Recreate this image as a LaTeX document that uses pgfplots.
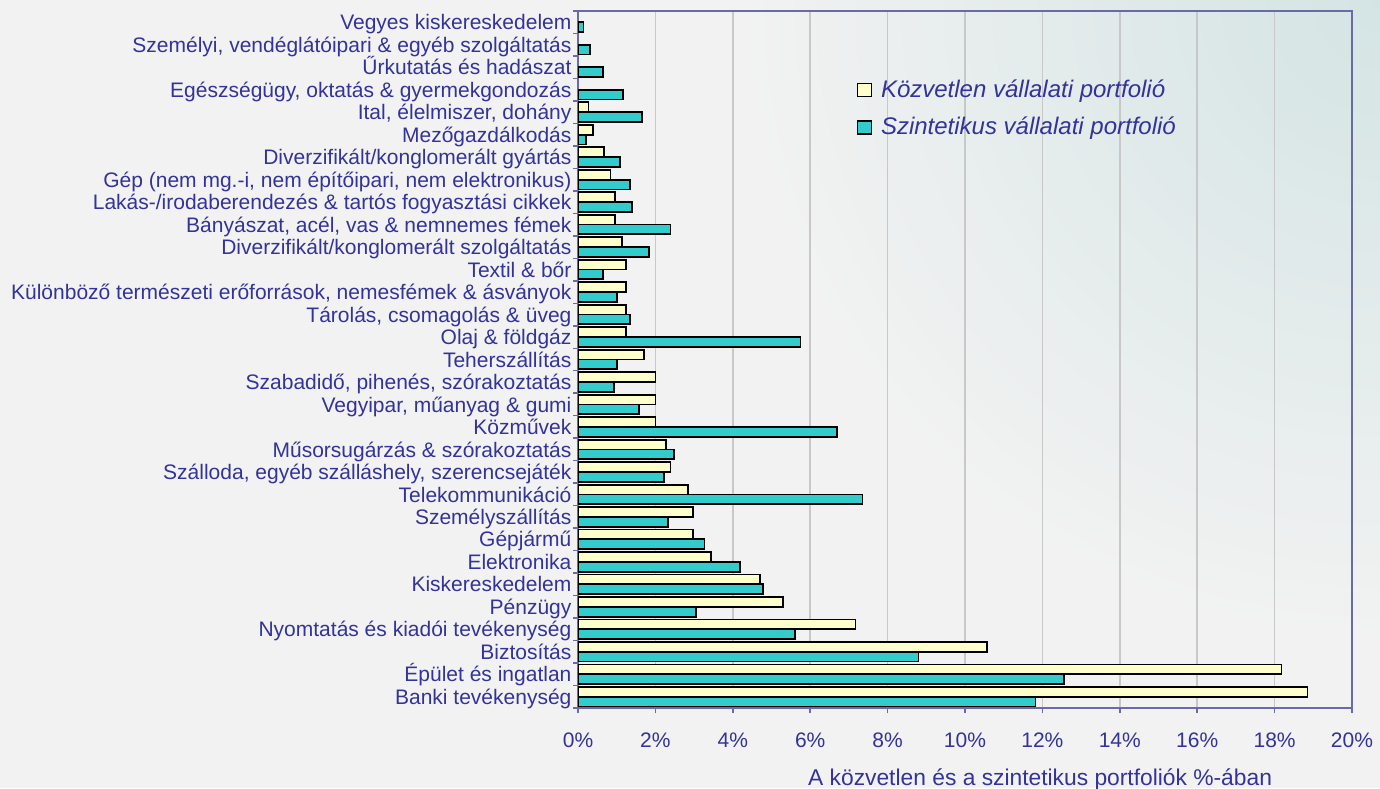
\documentclass[border=0pt]{standalone}
\usepackage{fontspec}
\setmainfont{Liberation Sans}
\usepackage{pgfplots}
\pgfplotsset{compat=1.18}
\definecolor{bgc}{HTML}{F2F2F2}
\definecolor{tint}{HTML}{D4E4E4}
\definecolor{txt}{HTML}{333399}
\definecolor{axisc}{HTML}{6A6AA6}
\definecolor{gridc}{HTML}{C8C8C8}
\definecolor{direct}{HTML}{FFFFCC}
\definecolor{synth}{HTML}{33CCCC}

\begin{document}
\begin{tikzpicture}
\useasboundingbox (0,0) rectangle (690pt,394pt);
\fill[bgc] (0,0) rectangle (690pt,394pt);
\begin{scope}
  \clip (0,0) rectangle (690pt,394pt);
  \shade[inner color=tint, outer color=bgc] (690pt,394pt) circle (320pt);
\end{scope}
\begin{axis}[
  at={(289pt,40pt)}, anchor=south west,
  scale only axis, width=387pt, height=348.5pt,
  xmin=0, xmax=20, ymin=-0.5, ymax=30.5,
  xbar, bar width=4.9pt,
  axis line style={draw=axisc, line width=0.9pt},
  tick pos=left, tick align=outside,
  major tick length=2.5pt, minor tick length=2.5pt,
  tick style={draw=axisc, line width=0.75pt},
  major y tick style={draw=none},
  xtick={0,2,...,20},
  xticklabels={0\%,2\%,4\%,6\%,8\%,10\%,12\%,14\%,16\%,18\%,20\%},
  xmajorgrids, grid style={draw=gridc, line width=0.75pt},
  ytick={0,...,30},
  minor ytick={-0.5,0.5,...,30.5},
  yticklabels={Banki tevékenység, Épület és ingatlan, Biztosítás,
    Nyomtatás és kiadói tevékenység, Pénzügy, Kiskereskedelem, Elektronika,
    Gépjármű, Személyszállítás, Telekommunikáció\hspace{4pt},
    {Szálloda, egyéb szálláshely, szerencsejáték},
    Műsorsugárzás \& szórakoztatás, Közművek\hspace{2pt},
    {Vegyipar, műanyag \& gumi\hspace{4.5pt}},
    {Szabadidő, pihenés, szórakoztatás}, Teherszállítás\hspace{6pt},
    Olaj \& földgáz, {Tárolás, csomagolás \& üveg\hspace{5pt}},
    {Különböző természeti erőforrások, nemesfémek \& ásványok},
    Textil \& bőr\hspace{9pt}, Diverzifikált/konglomerált szolgáltatás,
    {Bányászat, acél, vas \& nemnemes fémek},
    Lakás-/irodaberendezés \& tartós fogyasztási cikkek,
    {Gép (nem mg.-i, nem építőipari, nem elektronikus)},
    Diverzifikált/konglomerált gyártás, Mezőgazdálkodás\hspace{7pt},
    {Ital, élelmiszer, dohány}, {Egészségügy, oktatás \& gyermekgondozás},
    Űrkutatás és hadászat, {Személyi, vendéglátóipari \& egyéb szolgáltatás},
    Vegyes kiskereskedelem},
  yticklabel style={anchor=base east, inner sep=0pt, xshift=-0.6pt, yshift=-3.8pt,
    font=\fontsize{10.5}{12}\selectfont, text=txt},
  xticklabel style={anchor=base, inner sep=0pt, yshift=-17pt,
    font=\fontsize{10.5}{12}\selectfont, text=txt},
  xlabel={A közvetlen és a szintetikus portfoliók \%-ában},
  xlabel style={at={(axis description cs:0.597,0)}, anchor=base, inner sep=0pt,
    yshift=-38.5pt, font=\fontsize{11.4}{13}\selectfont, text=txt},
  legend style={at={(0.36,0.908)}, anchor=north west, draw=none, fill=none,
    font=\fontsize{12}{14}\selectfont\itshape, text=txt,
    row sep=4.5pt, cells={anchor=west}, inner sep=0pt,
    nodes={inner xsep=4.5pt}},
  legend image code/.code={\draw[#1, line width=0.7pt] (0pt,-3.3pt) rectangle (6.8pt,3.3pt);},
]
\addplot[fill=direct, draw=black, line width=0.9pt, bar shift=2.45pt] coordinates {
  (18.85,0) (18.18,1) (10.57,2) (7.17,3) (5.29,4) (4.71,5) (3.44,6) (2.98,7)
  (2.98,8) (2.85,9) (2.39,10) (2.28,11) (2.00,12) (2.00,13) (2.00,14) (1.71,15)
  (1.25,16) (1.25,17) (1.25,18) (1.25,19) (1.13,20) (0.96,21) (0.96,22)
  (0.84,23) (0.68,24) (0.38,25) (0.27,26)
};
\addplot[fill=synth, draw=black, line width=0.9pt, bar shift=-2.45pt] coordinates {
  (11.82,0) (12.56,1) (8.80,2) (5.60,3) (3.04,4) (4.79,5) (4.18,6) (3.27,7)
  (2.33,8) (7.35,9) (2.23,10) (2.49,11) (6.70,12) (1.58,13) (0.92,14) (1.01,15)
  (5.75,16) (1.34,17) (1.01,18) (0.64,19) (1.83,20) (2.39,21) (1.40,22)
  (1.34,23) (1.09,24) (0.21,25) (1.66,26) (1.17,27) (0.64,28) (0.31,29) (0.14,30)
};
\legend{Közvetlen vállalati portfolió, Szintetikus vállalati portfolió}
\end{axis}
\end{tikzpicture}
\end{document}
